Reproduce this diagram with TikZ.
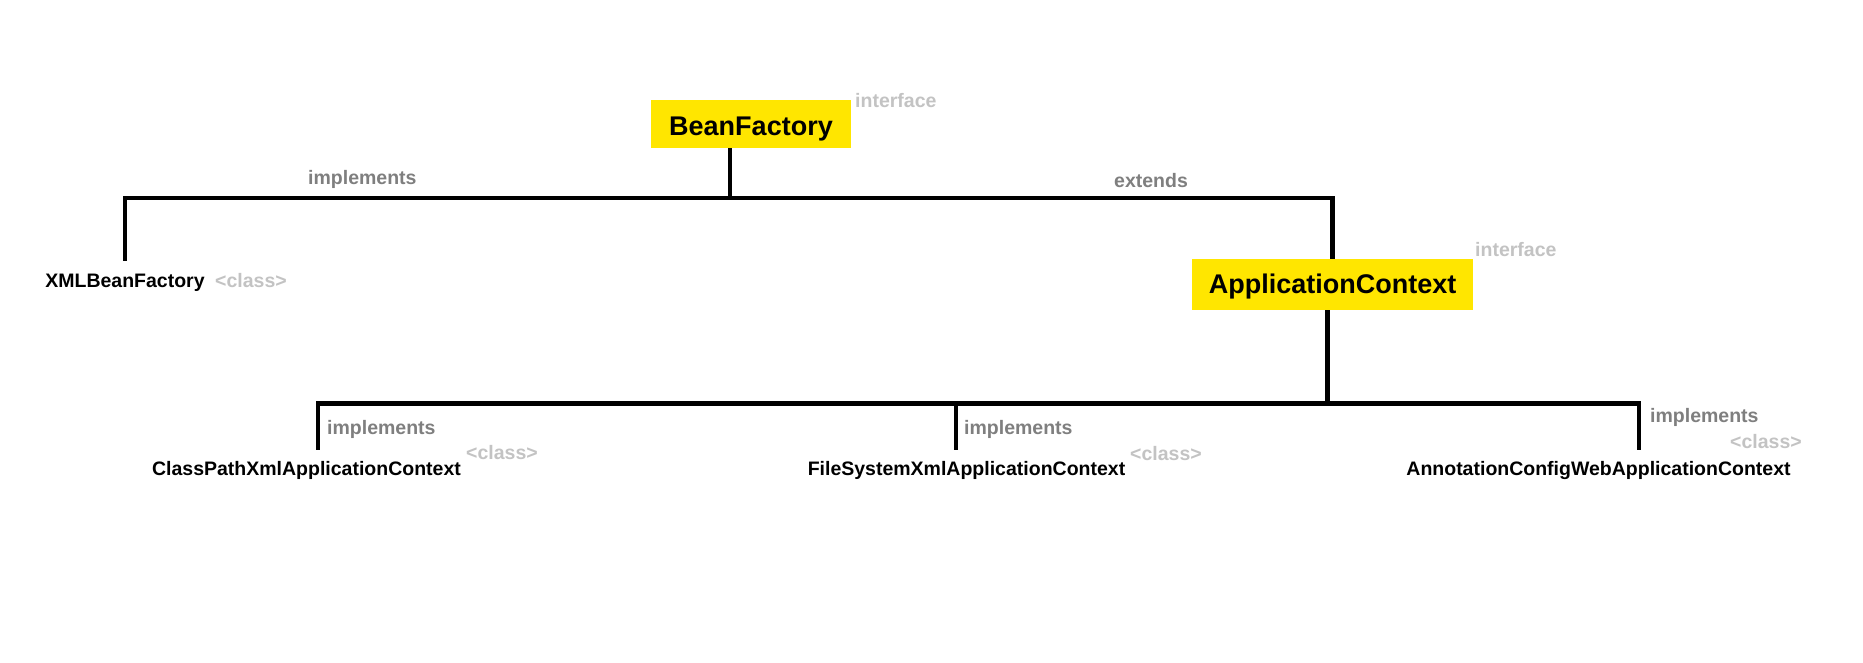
\documentclass[tikz,border=0pt]{standalone}
\usepackage{fontspec}
\setmainfont{Liberation Sans}
\definecolor{boxyellow}{HTML}{FFE600}
\definecolor{relgray}{HTML}{7F7F7F}
\definecolor{taggray}{HTML}{C3C3C3}
\begin{document}
\begin{tikzpicture}[x=1pt,y=-1pt,
  conn/.style={line width=4.6pt, draw=black, line join=miter},
  iface/.style={fill=boxyellow, inner sep=0pt, anchor=base, font=\bfseries\fontsize{27}{30}\selectfont},
  cls/.style={inner sep=0pt, anchor=base, text height=14pt, text depth=4pt, font=\bfseries\fontsize{19.5}{23}\selectfont},
  rel/.style={inner sep=0pt, anchor=base west, text=relgray, font=\bfseries\fontsize{19.5}{23}\selectfont},
  tag/.style={inner sep=0pt, anchor=base west, text=taggray, font=\bfseries\fontsize{19.5}{23}\selectfont}]
\useasboundingbox[fill=white] (0,0) rectangle (1863,662);

% interface boxes
\node[iface, minimum width=200pt, text height=35pt, text depth=13pt] (bf) at (751,135) {BeanFactory};
\node[iface, minimum width=281pt, text height=34pt, text depth=17pt] (ac) at (1332.5,293) {ApplicationContext};

% classes
\node[cls] (xml) at (125,287) {XMLBeanFactory};
\node[cls] (cp) at (306.5,475) {ClassPathXmlApplicationContext};
\node[cls] (fs) at (966.5,475) {FileSystemXmlApplicationContext};
\node[cls] (an) at (1598.5,475) {AnnotationConfigWebApplicationContext};

% junctions
\coordinate (jt) at (730,198);
\coordinate (jb) at (1327.5,403.5);
\coordinate (fsend) at ([xshift=-10.5pt,yshift=11pt]fs.north);

% connectors
\draw[conn] ([xshift=-21pt]bf.south) -- (jt);
\draw[conn] ([yshift=12pt]xml.north) |- (jt) -| (ac.north);
\draw[conn] ([xshift=-5pt]ac.south) -- (jb);
\draw[conn] ([xshift=11.5pt,yshift=11pt]cp.north) |- (jb) -| ([xshift=40.5pt,yshift=11pt]an.north);
\draw[conn] (fsend) -- (fsend |- jb);

% labels
\node[rel] (l1) at (308,184) {implements};
\node[rel] (l2) at (1114,187) {extends};
\node[rel] (l3) at (327,434) {implements};
\node[rel] (l4) at (964,434) {implements};
\node[rel] (l5) at (1650,422) {implements};
\node[tag] (t1) at (855,107) {interface};
\node[tag] (t2) at (1475,256) {interface};
\node[tag] (t3) at (215,287) {<class>};
\node[tag] (t4) at (466,459) {<class>};
\node[tag] (t5) at (1130,460) {<class>};
\node[tag] (t6) at (1730,448) {<class>};
\end{tikzpicture}
\end{document}
